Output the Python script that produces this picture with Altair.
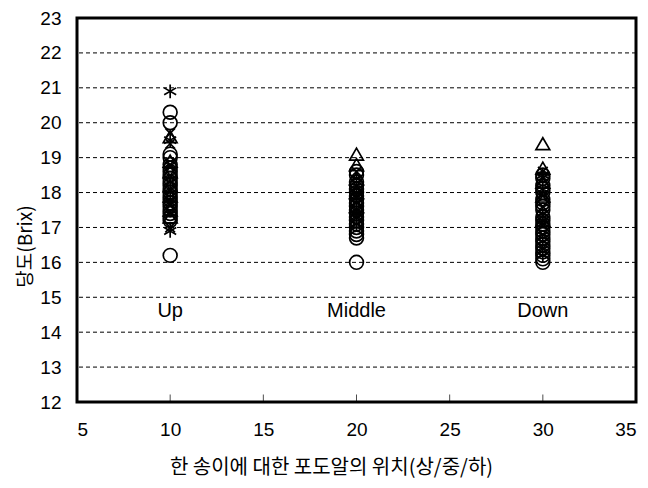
import altair as alt
import pandas as pd

# Positions on the x axis for the three bunch locations
positions = [10, 20, 30]
position_names = ["Up", "Middle", "Down"]
label_level = [14.6, 14.6, 14.6]

# Brix readings per position and marker series
up_circle = [20.3, 20.0, 19.1, 19.0, 18.8, 18.7, 18.6, 18.5, 18.4, 18.3, 18.2, 18.1, 18.0,
             17.9, 17.8, 17.7, 17.6, 17.5, 17.4, 17.3, 17.2, 16.2]
up_triangle = [19.6, 18.9, 18.6, 18.2, 17.9, 17.5, 17.3]
up_x = [19.7, 19.4, 18.8, 18.5, 18.1, 17.7, 17.4, 17.0]
up_star = [20.9, 19.5, 18.3, 17.8, 16.9]

mid_circle = [18.6, 18.5, 18.3, 18.2, 18.1, 18.0, 17.9, 17.8, 17.7, 17.6, 17.5, 17.4, 17.3,
              17.2, 17.1, 17.0, 16.9, 16.8, 16.7, 16.0]
mid_triangle = [19.1, 18.8, 18.4, 18.0, 17.6]
mid_x = [18.6, 18.2, 17.9, 17.5, 17.3]
mid_star = [18.4, 18.0, 17.7, 17.4, 17.1]

down_circle = [18.5, 18.4, 18.2, 18.1, 18.0, 17.8, 17.7, 17.6, 17.5, 17.3, 17.2, 17.1, 17.0,
               16.9, 16.8, 16.7, 16.6, 16.5, 16.4, 16.3, 16.2, 16.1, 16.0]
down_triangle = [19.4, 18.7, 18.3, 17.9, 17.2]
down_x = [18.6, 18.4, 17.9, 17.6, 17.1, 16.8, 16.4]
down_star = [18.5, 18.1, 17.4, 17.2, 16.6, 16.2]

x_ticks = [5, 10, 15, 20, 25, 30, 35]
y_ticks = [12, 13, 14, 15, 16, 17, 18, 19, 20, 21, 22, 23]

series = [
    (10, "circle", up_circle), (10, "triangle", up_triangle), (10, "x", up_x), (10, "star", up_star),
    (20, "circle", mid_circle), (20, "triangle", mid_triangle), (20, "x", mid_x), (20, "star", mid_star),
    (30, "circle", down_circle), (30, "triangle", down_triangle), (30, "x", down_x), (30, "star", down_star),
]
rows = []
for xpos, kind, vals in series:
    for v in vals:
        rows.append({"pos": xpos, "brix": v, "kind": kind})
df = pd.DataFrame(rows)

labels_df = pd.DataFrame({"pos": positions, "name": position_names, "lvl": label_level})
ticks_df = pd.DataFrame({"pos": x_ticks[1:-1]})
grid_df = pd.DataFrame({"v": y_ticks[1:-1]})

FONT = "Liberation Sans, Noto Sans CJK KR"
KFONT = "Noto Sans CJK KR"

xscale = alt.Scale(domain=[5, 35], nice=False, zero=False)
yscale = alt.Scale(domain=[12, 23], nice=False, zero=False)

xaxis = alt.Axis(values=x_ticks, title="한 송이에 대한 포도알의 위치(상/중/하)",
                 grid=False, ticks=False, domain=False, labelPadding=18, labelOverlap=False,
                 labelFont=FONT, labelFontSize=19, labelColor="black",
                 titleFont=KFONT, titleFontSize=20, titleFontWeight="normal",
                 titleColor="black", titlePadding=18, titleX=254)
yaxis = alt.Axis(values=y_ticks, tickCount=12, title="당도(Brix)", grid=False,
                 ticks=False, domain=False, labelPadding=16, labelOverlap=False,
                 labelFont=FONT, labelFontSize=19, labelColor="black",
                 titleFont=KFONT, titleFontSize=19, titleFontWeight="normal",
                 titleColor="black", titlePadding=4, titleY=228)

shape_scale = alt.Scale(
    domain=["circle", "triangle", "x", "star"],
    range=["circle", "triangle-up",
           "M-0.7,-0.7L0.7,0.7M-0.7,0.7L0.7,-0.7",
           "M0,-1L0,1M-0.87,-0.5L0.87,0.5M-0.87,0.5L0.87,-0.5"],
)

grid = alt.Chart(grid_df).mark_rule(color="black", strokeWidth=1, strokeDash=[4, 3]).encode(
    y=alt.Y("v:Q", scale=yscale, axis=yaxis),
)

points = alt.Chart(df).mark_point(filled=False, color="black", strokeWidth=1.7, size=190, opacity=1).encode(
    x=alt.X("pos:Q", scale=xscale, axis=xaxis),
    y=alt.Y("brix:Q", scale=yscale, axis=yaxis),
    shape=alt.Shape("kind:N", scale=shape_scale, legend=None),
)

text = alt.Chart(labels_df).mark_text(font=FONT, fontSize=20, color="black").encode(
    x=alt.X("pos:Q", scale=xscale, axis=xaxis),
    y=alt.Y("lvl:Q", scale=yscale, axis=yaxis),
    text="name:N",
)

ticks = alt.Chart(ticks_df).mark_tick(orient="vertical", color="black", size=7, thickness=1).encode(
    x=alt.X("pos:Q", scale=xscale, axis=xaxis),
    y=alt.value(380),
)

chart = alt.layer(grid, points, text, ticks).properties(
    width=559, height=384,
    autosize=alt.AutoSizeParams(type="none"),
    padding={"left": 69, "top": 10, "right": 2, "bottom": 80},
).configure_view(stroke="black", strokeWidth=3)

chart.save("out.html", embed_options={"renderer": "svg", "actions": False})
